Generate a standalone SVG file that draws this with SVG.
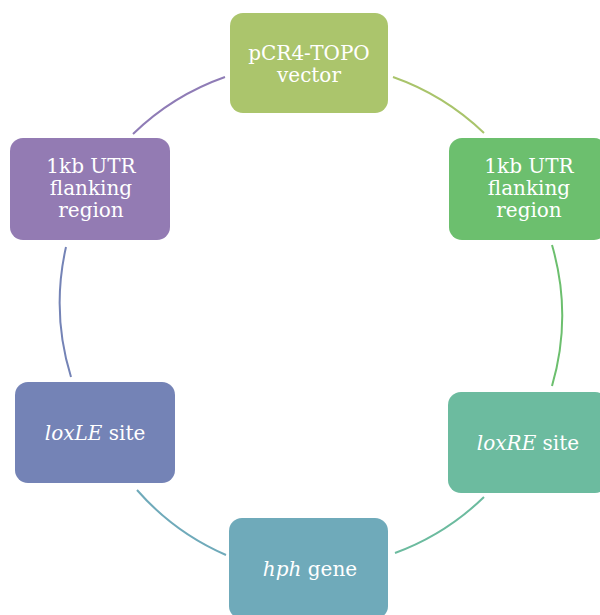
<svg xmlns="http://www.w3.org/2000/svg" width="600" height="615" viewBox="0 0 600 615">
<style>
.box{stroke:none}
.t{font-family:"DejaVu Serif","Liberation Serif",serif;font-size:20px;fill:#ffffff;text-anchor:middle}
.c{fill:none;stroke-width:2}
</style>
<rect width="600" height="615" fill="#ffffff"/>
<g id="connectors">
<path class="c" stroke="#8f7cb6" d="M133,134 A252,252 0 0 1 225,77"/>
<path class="c" stroke="#a9c46b" d="M393,77 A252,252 0 0 1 484,133"/>
<path class="c" stroke="#6cbf6e" d="M552,245 A252,252 0 0 1 552,386"/>
<path class="c" stroke="#6cbb9f" d="M484,497 A252,252 0 0 1 395,553"/>
<path class="c" stroke="#6faaba" d="M226,555 A252,252 0 0 1 137,490"/>
<path class="c" stroke="#7483b6" d="M71,377 A252,252 0 0 1 66,247"/>
</g>
<g id="node-top">
<rect class="box" x="230" y="13" width="158" height="100" rx="13" fill="#abc56c"/>
<text class="t" x="309" y="60">pCR4-TOPO</text>
<text class="t" x="309" y="82">vector</text>
</g>
<g id="node-right-top">
<rect class="box" x="449" y="138" width="158" height="102" rx="13" fill="#6cbf6e"/>
<text class="t" x="529" y="173">1kb UTR</text>
<text class="t" x="529" y="195">flanking</text>
<text class="t" x="529" y="217">region</text>
</g>
<g id="node-left-top">
<rect class="box" x="10" y="138" width="160" height="102" rx="13" fill="#937bb3"/>
<text class="t" x="91" y="173">1kb UTR</text>
<text class="t" x="91" y="195">flanking</text>
<text class="t" x="91" y="217">region</text>
</g>
<g id="node-loxLE">
<rect class="box" x="15" y="382" width="160" height="101" rx="13" fill="#7483b6"/>
<text class="t" x="95" y="440"><tspan font-style="italic">loxLE</tspan> site</text>
</g>
<g id="node-loxRE">
<rect class="box" x="448" y="392" width="160" height="101" rx="13" fill="#6cbb9f"/>
<text class="t" x="528" y="450"><tspan font-style="italic">loxRE</tspan> site</text>
</g>
<g id="node-hph">
<rect class="box" x="229" y="518" width="159" height="101" rx="13" fill="#6faaba"/>
<text class="t" x="310" y="576"><tspan font-style="italic">hph</tspan> gene</text>
</g>
</svg>
